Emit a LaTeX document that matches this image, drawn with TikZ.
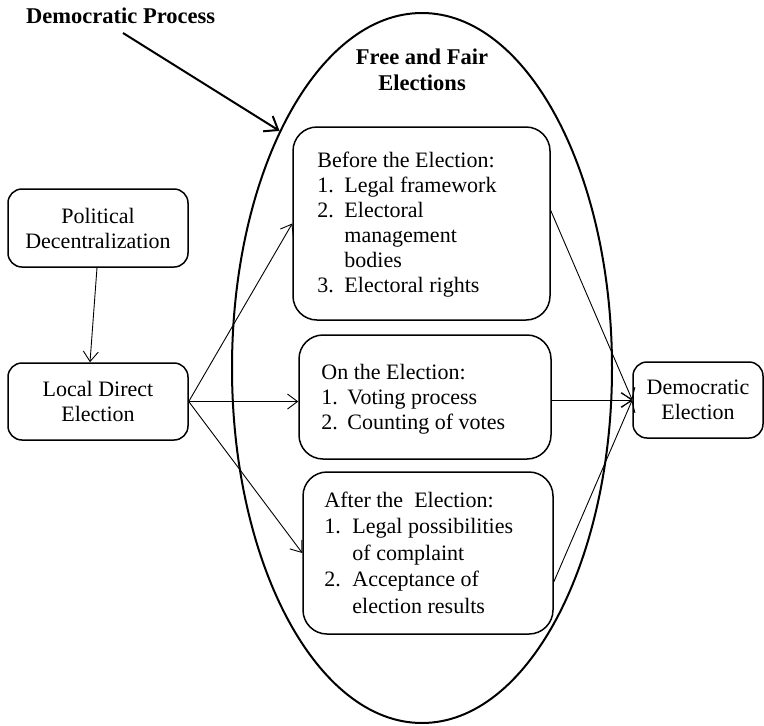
\documentclass[tikz,border=0pt]{standalone}
\usepackage{fontspec}
\setmainfont{Liberation Serif}
\usetikzlibrary{shapes.geometric,arrows.meta}
\begin{document}
\begin{tikzpicture}[x=1pt,y=-1pt,
  bigbox/.style={draw,line width=1.5pt,rounded corners=24pt,inner sep=0pt},
  smallbox/.style={draw,line width=1.5pt,rounded corners=14pt,inner sep=0pt,align=center,font=\fontsize{22}{25}\selectfont},
  txt/.style={inner sep=0pt,font=\fontsize{22}{25}\selectfont},
  ttl/.style={inner sep=0pt,align=center,font=\fontsize{22.5}{26}\selectfont\bfseries},
  arr/.style={-{Straight Barb[length=10pt,width=15pt,line width=0.9pt]},line width=0.9pt},
  bigarr/.style={-{Straight Barb[length=12pt,width=18pt,line width=2pt]},line width=2pt}
]
\useasboundingbox (0,0) rectangle (764,726);

% ellipse
\node[draw,ellipse,line width=2pt,minimum width=380pt,minimum height=710pt,inner sep=0pt] (ell) at (422,368) {};

% titles
\node[ttl,anchor=west] (dp) at (26,16) {Democratic Process};
\node[ttl] (ffe) at (422,70) {Free and Fair\\Elections};
\coordinate (dpstart) at (123,33);

% left boxes
\node[smallbox,minimum width=180pt,minimum height=78pt] (pol) at (98,228) {Political\\Decentralization};
\node[smallbox,minimum width=180pt,minimum height=77pt] (loc) at (98,401.5) {Local Direct\\Election};

% right box
\node[smallbox,minimum width=130pt,minimum height=76pt] (dem) at (698,400) {Democratic\\Election};

% central boxes
\node[bigbox,minimum width=257pt,minimum height=193pt] (before) at (421.5,223.5) {};
\node[txt,anchor=west] (beforetxt) at ([xshift=25pt,yshift=-1pt]before.west) {%
\begin{tabular}{@{}p{27pt}@{}l@{}}
\multicolumn{2}{@{}l@{}}{Before the Election:}\\
1. & Legal framework\\
2. & Electoral\\
   & management\\
   & bodies\\
3. & Electoral rights
\end{tabular}};

\node[bigbox,minimum width=252pt,minimum height=124pt] (on) at (425,397) {};
\node[txt,anchor=west] (ontxt) at ([xshift=23pt,yshift=-2pt]on.west) {%
\begin{tabular}{@{}p{26pt}@{}l@{}}
\multicolumn{2}{@{}l@{}}{On the Election:}\\
1. & Voting process\\
2. & Counting of votes
\end{tabular}};

\node[bigbox,minimum width=250pt,minimum height=162pt] (after) at (428,553) {};
\node[txt,anchor=west] (aftertxt) at ([xshift=22pt,yshift=-2pt]after.west) {%
\renewcommand{\arraystretch}{1.06}%
\begin{tabular}{@{}p{28pt}@{}l@{}}
\multicolumn{2}{@{}l@{}}{After the\ \ Election:}\\
1. & Legal possibilities\\
   & of complaint\\
2. & Acceptance of\\
   & election results
\end{tabular}};

% connectors
\draw[bigarr] (dpstart) -- (ell.121);
\draw[arr] ([xshift=-1pt]pol.south) -- ([xshift=-8pt]loc.north);
\draw[arr] (loc.east) -- (before.west);
\draw[arr] (loc.east) -- (loc.east -| on.west);
\draw[arr] (loc.east) -- (after.west);
\draw[arr] ([yshift=13pt]before.east) -- (dem.west);
\draw[arr] (on.east |- dem.west) -- (dem.west);
\draw[arr] ([yshift=-29pt]after.east) -- (dem.west);
\end{tikzpicture}
\end{document}
